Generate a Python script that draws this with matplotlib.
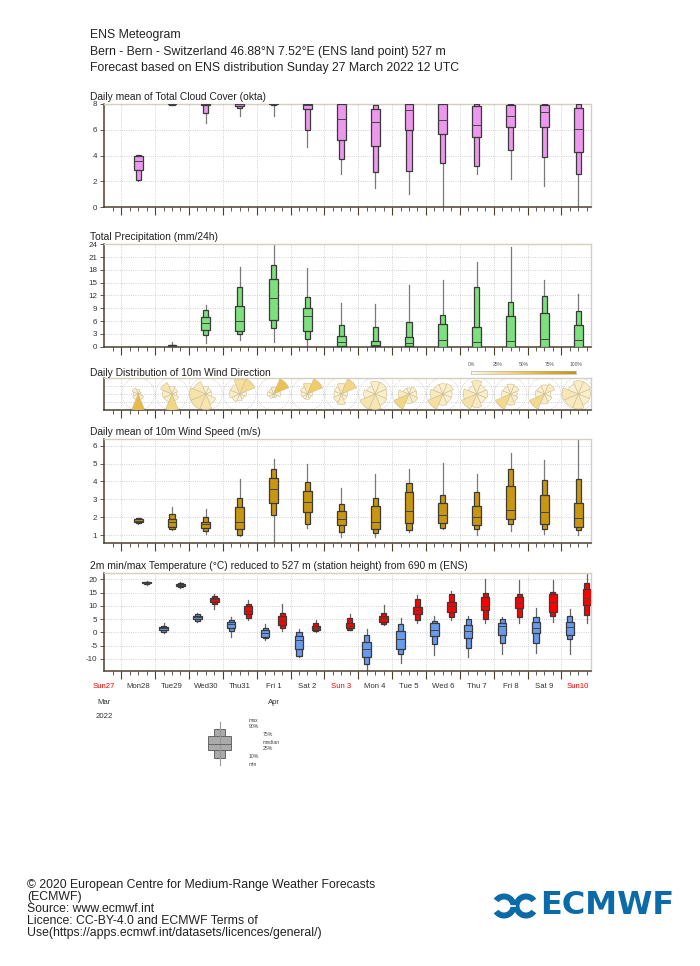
import numpy as np
import matplotlib
matplotlib.use("Agg")
import matplotlib.pyplot as plt
import matplotlib.transforms as mtransforms
from matplotlib.patches import Rectangle, Wedge, Circle
from matplotlib.colors import LinearSegmentedColormap

plt.rcParams['font.family'] = ['Liberation Sans', 'DejaVu Sans']
plt.rcParams['axes.unicode_minus'] = False

# ---- data ----
day_labels = ["Sun27", "Mon28", "Tue29", "Wed30", "Thu31", "Fri 1", "Sat 2", "Sun 3",
              "Mon 4", "Tue 5", "Wed 6", "Thu 7", "Fri 8", "Sat 9", "Sun10"]
sundays = ["Sun27", "Sun 3", "Sun10"]

# each entry: (min, p10, p25, median, p75, p90, max), one per day Mon28 .. Sun10
cloud = [(2.05, 2.1, 2.88, 3.6, 3.95, 4.0, 4.02),
         (7.9, 7.95, 7.97, 8.0, 8.0, 8.0, 8.0),
         (6.5, 7.3, 7.9, 8.0, 8.0, 8.0, 8.0),
         (7.1, 7.7, 7.88, 8.0, 8.0, 8.0, 8.0),
         (7.1, 7.95, 7.98, 8.0, 8.0, 8.0, 8.0),
         (4.65, 6.0, 7.62, 7.9, 8.0, 8.0, 8.0),
         (2.57, 3.74, 5.17, 6.83, 7.97, 8.0, 8.0),
         (1.45, 2.75, 4.7, 6.6, 7.64, 7.95, 8.0),
         (0.99, 2.83, 5.97, 7.53, 7.97, 8.0, 8.0),
         (0.0, 3.4, 5.66, 6.73, 7.97, 8.0, 8.0),
         (2.55, 3.22, 5.45, 6.36, 7.84, 7.97, 8.0),
         (2.16, 4.42, 6.18, 7.04, 7.95, 8.0, 8.0),
         (1.66, 3.87, 6.18, 7.38, 7.95, 8.0, 8.0),
         (0.1, 2.57, 4.29, 6.08, 7.66, 7.97, 8.0)]

precip = [(0, 0, 0, 0, 0, 0, 0),
          (0.0, 0.0, 0.0, 0.1, 0.3, 0.47, 1.2),
          (0.94, 2.66, 3.83, 5.47, 6.88, 8.52, 9.7),
          (1.56, 2.9, 3.75, 6.1, 9.62, 13.9, 18.6),
          (1.1, 4.46, 6.18, 11.34, 15.87, 19.2, 24.0),
          (0.16, 1.8, 3.75, 7.11, 9.15, 11.57, 18.45),
          (0.0, 0.0, 0.23, 1.02, 2.5, 5.08, 10.24),
          (0.0, 0.0, 0.08, 0.47, 1.25, 4.53, 10.0),
          (0.0, 0.0, 0.08, 0.78, 2.19, 5.7, 14.54),
          (0.0, 0.0, 0.0, 1.56, 5.24, 7.5, 15.7),
          (0.0, 0.0, 0.0, 1.1, 4.53, 13.9, 19.86),
          (0.0, 0.0, 0.0, 1.41, 7.11, 10.48, 23.3),
          (0.0, 0.0, 0.0, 1.88, 7.9, 11.88, 15.6),
          (0.0, 0.0, 0.0, 1.56, 5.0, 8.29, 12.35)]

wind_speed = [(1.62, 1.68, 1.73, 1.8, 1.88, 1.93, 1.97),
              (1.28, 1.34, 1.47, 1.71, 1.9, 2.19, 2.55),
              (1.06, 1.22, 1.37, 1.6, 1.75, 2.03, 2.44),
              (0.94, 1.0, 1.34, 1.71, 2.55, 3.05, 4.12),
              (0.57, 2.12, 2.77, 3.56, 4.17, 4.71, 5.24),
              (1.37, 1.62, 2.27, 2.87, 3.48, 3.99, 4.96),
              (0.91, 1.15, 1.54, 1.88, 2.34, 2.74, 3.65),
              (0.87, 1.09, 1.32, 1.71, 2.6, 3.09, 4.4),
              (1.15, 1.28, 1.69, 2.34, 3.39, 3.89, 4.71),
              (1.32, 1.37, 1.69, 2.14, 2.79, 3.24, 5.01),
              (1.0, 1.32, 1.54, 2.01, 2.62, 3.39, 4.41),
              (1.22, 1.62, 1.88, 2.4, 3.74, 4.69, 5.57),
              (1.04, 1.34, 1.6, 2.29, 3.24, 4.08, 5.2),
              (1.0, 1.28, 1.47, 1.95, 2.77, 4.12, 6.35)]

# daily minimum (06 UTC) and maximum (18 UTC) 2m temperature
tmin = [(-1.9, -1.5, -1.25, -1.05, -0.85, -0.7, -0.5),
        (-0.17, 0.3, 0.7, 1.47, 2.0, 2.5, 3.36),
        (3.86, 4.1, 5.0, 5.88, 6.26, 6.76, 7.4),
        (-1.8, 0.6, 1.6, 3.1, 4.0, 4.6, 5.76),
        (-3.07, -2.3, -1.8, -0.3, 0.84, 1.72, 3.0),
        (-9.25, -8.87, -6.47, -2.8, -1.43, -0.04, 1.1),
        (-13.3, -12.14, -9.37, -4.83, -3.07, -1.7, -0.8),
        (-14.3, -12.0, -9.5, -6.47, -3.57, -1.05, 1.22),
        (-11.4, -8.24, -6.35, -2.69, 0.34, 3.0, 5.38),
        (-8.5, -4.45, -1.43, 0.71, 3.36, 4.24, 6.13),
        (-9.5, -6.1, -2.06, 0.34, 2.73, 4.87, 6.13),
        (-8.24, -3.95, -1.05, 2.35, 3.6, 5.0, 5.88),
        (-7.73, -4.2, -0.42, 1.72, 4.0, 5.76, 9.3),
        (-8.0, -2.56, -1.05, 2.1, 4.0, 6.26, 9.0)]

tmax = [(18.0, 18.3, 18.5, 18.8, 19.0, 19.2, 19.4),
        (16.85, 17.1, 17.35, 18.0, 18.4, 18.6, 19.1),
        (9.0, 10.55, 11.3, 12.44, 13.07, 13.57, 14.45),
        (4.6, 5.38, 6.76, 8.15, 10.04, 10.55, 12.06),
        (0.34, 1.47, 2.6, 4.24, 6.13, 7.14, 10.55),
        (0.2, 0.34, 0.7, 1.6, 2.5, 3.36, 4.6),
        (0.7, 0.84, 1.72, 2.5, 3.36, 5.25, 7.0),
        (2.7, 3.2, 4.0, 5.5, 6.26, 7.14, 10.2),
        (3.6, 4.75, 6.76, 8.28, 9.66, 12.56, 13.95),
        (4.5, 5.76, 7.65, 9.79, 11.55, 14.33, 15.7),
        (3.36, 4.87, 8.4, 10.04, 13.2, 14.96, 20.1),
        (3.36, 5.88, 9.16, 10.92, 13.44, 14.58, 19.87),
        (4.0, 6.0, 7.77, 11.43, 14.45, 15.3, 19.75),
        (3.36, 6.5, 10.17, 12.94, 16.34, 18.6, 22.3)]

# wind direction frequency (%) per day, sectors N, NE, E, SE, S, SW, W, NW
wind_dir = [[5, 2, 2, 8, 60, 8, 5, 10],
            [8, 5, 3, 7, 35, 10, 12, 20],
            [5, 3, 3, 10, 20, 22, 22, 15],
            [25, 30, 5, 3, 5, 8, 12, 12],
            [10, 55, 10, 3, 3, 5, 8, 6],
            [20, 45, 5, 3, 5, 5, 7, 10],
            [15, 35, 5, 5, 15, 10, 7, 8],
            [12, 12, 10, 12, 18, 20, 10, 6],
            [5, 8, 8, 12, 12, 35, 15, 5],
            [10, 12, 8, 8, 12, 25, 15, 10],
            [15, 8, 10, 8, 15, 22, 15, 7],
            [12, 10, 5, 8, 15, 32, 10, 8],
            [10, 15, 5, 8, 12, 32, 10, 8],
            [12, 12, 10, 10, 15, 15, 18, 8]]

W, H = 700, 966
fig = plt.figure(figsize=(W / 100, H / 100), dpi=100)
dark = '#4a4030'
edge = '#3a3a3a'


def px_axes(left, top, right, bottom):
    return fig.add_axes([left / W, 1 - bottom / H, (right - left) / W, (bottom - top) / H])


def style(ax, ylim, yticks):
    ax.set_xlim(0.5, 14.875)
    ax.set_ylim(*ylim)
    ax.set_xticks(np.arange(1, 15))
    ax.set_xticks(np.arange(0.75, 14.9, 0.25), minor=True)
    ax.set_xticklabels([])
    ax.tick_params(axis='x', which='major', length=5.5, width=0.8, color=dark)
    ax.tick_params(axis='x', which='minor', length=3, width=0.6, color=dark)
    ax.set_yticks(yticks)
    ax.tick_params(axis='y', length=3, width=0.6, color=dark, labelsize=5.8,
                   labelcolor='#333333', pad=2)
    ax.grid(True, which='major', ls=':', lw=0.6, color='#c4c4c4')
    ax.set_axisbelow(True)
    for s in ['left', 'bottom']:
        ax.spines[s].set_color(dark)
        ax.spines[s].set_linewidth(1.1)
    for s in ['top', 'right']:
        ax.spines[s].set_color('#d6cfc0')
        ax.spines[s].set_linewidth(1.0)


def boxes(ax, xs, stats, fill, wide=0.26, narrow=0.15, whisk='#7a7a7a'):
    for x, (mn, p10, p25, med, p75, p90, mx) in zip(xs, stats):
        if mx <= 0:
            continue
        ax.plot([x, x], [mn, mx], color=whisk, lw=0.9, zorder=2)
        ax.add_patch(Rectangle((x - narrow / 2, p10), narrow, p90 - p10,
                               fc=fill, ec=edge, lw=0.9, zorder=3))
        ax.add_patch(Rectangle((x - wide / 2, p25), wide, p75 - p25,
                               fc=fill, ec=edge, lw=0.9, zorder=4))
        ax.plot([x - wide / 2, x + wide / 2], [med, med], color='#444444', lw=0.7, zorder=5)


noon = np.arange(1, 15) + 0.5

# cloud cover
ax1 = px_axes(104.3, 104, 591, 207)
style(ax1, (0, 8), [0, 2, 4, 6, 8])
boxes(ax1, noon, cloud, '#ec98ec')

# precipitation
ax2 = px_axes(104.3, 244.3, 591, 346.7)
style(ax2, (0, 24), np.arange(0, 25, 3))
boxes(ax2, noon, precip, '#7ddf7d')

# wind direction roses
ax3 = px_axes(104.3, 378, 591, 410)
style(ax3, (-0.472, 0.472), [-0.236, 0, 0.236])
ax3.set_yticklabels([])
ax3.tick_params(axis='y', length=0)
cmap = LinearSegmentedColormap.from_list(
    'wd', [(0, '#fdf8ea'), (0.25, '#f5e0a0'), (0.5, '#eec75a'), (0.75, '#dcaa25'), (1, '#c8960c')])
R = 0.48
for x0, freqs in zip(noon, wind_dir):
    ax3.add_patch(Circle((x0, 0), R, fill=False, ec='#bbbbbb', lw=0.5, ls=':', zorder=2))
    top = max(freqs)
    for k, p in enumerate(freqs):
        ang = 90 - 45 * k
        r = R * np.sqrt(p / top)
        ax3.add_patch(Wedge((x0, 0), r, ang - 22.5, ang + 22.5, fc=cmap(p / 100.0),
                            ec='#cdbd92', lw=0.4, zorder=3))

# colour key of the roses
axc = px_axes(471, 371, 576, 374)
axc.imshow(np.linspace(0, 1, 200)[None, :], aspect='auto', cmap=cmap,
           extent=(0, 100, 0, 1))
axc.set_xticks([])
axc.set_yticks([])
for s in axc.spines.values():
    s.set_color('#aaaaaa')
    s.set_linewidth(0.4)
for v in [0, 25, 50, 75, 100]:
    axc.text(v, 2.3, f"{v}%", fontsize=3.6, color='#555555', ha='center', va='bottom',
             transform=axc.transData, clip_on=False)

# wind speed
ax4 = px_axes(104.3, 439.3, 591, 542.7)
style(ax4, (0.57, 6.36), [1, 2, 3, 4, 5, 6])
boxes(ax4, noon, wind_speed, '#c8960f')

# temperature
ax5 = px_axes(104.3, 573.3, 591, 671)
style(ax5, (-14.6, 22.3), np.arange(-10, 21, 5))
boxes(ax5, noon - 0.25, tmin, '#6a9aec', wide=0.25, narrow=0.15, whisk='#666666')
boxes(ax5, noon + 0.25, tmax, '#ff0000', wide=0.25, narrow=0.15, whisk='#666666')

# overlay in pixel coordinates for texts
ov = fig.add_axes([0, 0, 1, 1])
ov.set_xlim(0, W)
ov.set_ylim(H, 0)
ov.axis('off')

header = ["ENS Meteogram",
          "Bern - Bern - Switzerland 46.88°N 7.52°E (ENS land point) 527 m",
          "Forecast based on ENS distribution Sunday 27 March 2022 12 UTC"]
for i, line in enumerate(header):
    ov.text(90, 35 + i * 16.5, line, fontsize=8.8, color='#222222', va='center')

titles = [(97, "Daily mean of Total Cloud Cover (okta)"),
          (237, "Total Precipitation (mm/24h)"),
          (373, "Daily Distribution of 10m Wind Direction"),
          (432, "Daily mean of 10m Wind Speed (m/s)"),
          (566, "2m min/max Temperature (°C) reduced to 527 m (station height) from 690 m (ENS)")]
for y, t in titles:
    ov.text(90, y, t, fontsize=7.4, color='#222222', va='center')

# date labels under the temperature panel
tr = mtransforms.blended_transform_factory(ax5.transData, ov.transData)
for i, lab in enumerate(day_labels):
    col = '#ff0000' if lab in sundays else '#333333'
    ov.text(0.5 + i, 687, lab, fontsize=5.6, color=col, ha='center', va='center', transform=tr)
ov.text(0.5, 702, "Mar", fontsize=5.6, color='#333333', ha='center', va='center', transform=tr)
ov.text(5.5, 702, "Apr", fontsize=5.6, color='#333333', ha='center', va='center', transform=tr)
ov.text(0.5, 716, "2022", fontsize=5.6, color='#333333', ha='center', va='center', transform=tr)

# box legend
ov.plot([219.5, 219.5], [722, 765], color='#999999', lw=0.8)
ov.add_patch(Rectangle((214, 729), 11, 29, fc='#aaaaaa', ec='#666666', lw=0.7))
ov.add_patch(Rectangle((208, 736), 23, 14, fc='#aaaaaa', ec='#666666', lw=0.7))
ov.plot([208, 231], [743.5, 743.5], color='#666666', lw=0.7)
for x, y, t in [(249, 720, "max"), (249, 727, "90%"), (263, 735, "75%"),
                (263, 742, "median"), (263, 749, "25%"), (249, 757, "10%"), (249, 764, "min")]:
    ov.text(x, y, t, fontsize=3.7, color='#444444', va='center')

# footer
footer = ["© 2020 European Centre for Medium-Range Weather Forecasts",
          "(ECMWF)",
          "Source: www.ecmwf.int",
          "Licence: CC-BY-4.0 and ECMWF Terms of",
          "Use(https://apps.ecmwf.int/datasets/licences/general/)"]
for i, line in enumerate(footer):
    ov.text(27, 885 + i * 12, line, fontsize=8.8, color='#222222', va='center')

# ECMWF logo
blue = '#0b6aa8'
ov.add_patch(Wedge((504, 906), 12.5, -145, 145, width=6, fc=blue, ec='none'))
ov.add_patch(Wedge((526, 906), 12.5, 35, 325, width=6, fc=blue, ec='none'))
ov.plot([491, 515], [906, 906], color='white', lw=1.2)
ov.text(540, 906, "ECMWF", fontsize=23, fontweight='bold', family='DejaVu Sans',
        color=blue, va='center', ha='left')

fig.savefig("out.png", dpi=100)
